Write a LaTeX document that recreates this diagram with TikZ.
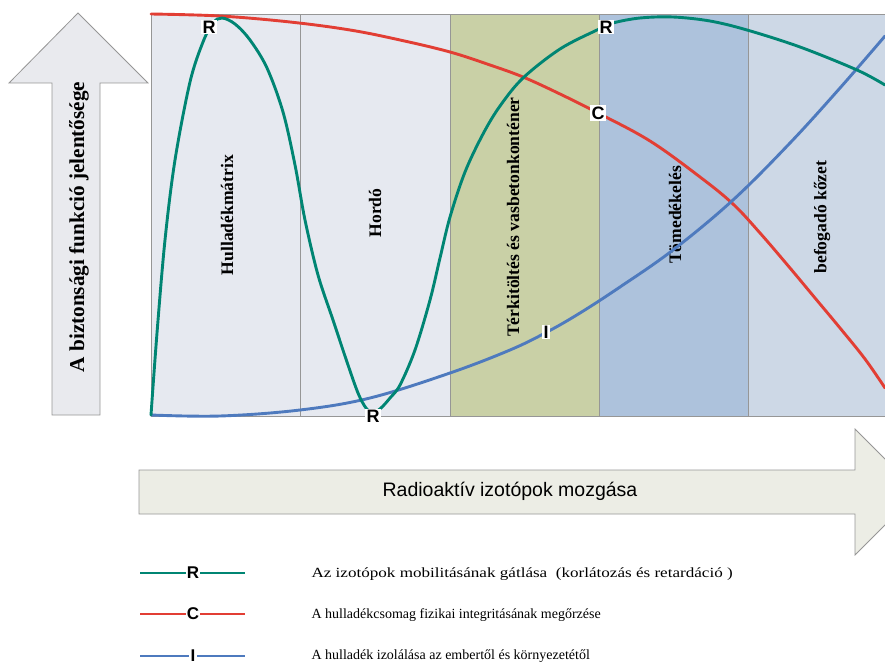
\documentclass[tikz,border=0pt]{standalone}
\usepackage{fontspec}
\setmainfont{Liberation Serif}
\setsansfont{Liberation Sans}
\newfontfamily\widelegend[FakeStretch=1.22]{Liberation Serif}
\definecolor{tealR}{RGB}{0,133,115}
\definecolor{redC}{RGB}{226,62,52}
\definecolor{blueI}{RGB}{78,122,190}
\definecolor{colA}{RGB}{230,233,240}
\definecolor{colB}{RGB}{201,208,166}
\definecolor{colC}{RGB}{173,194,220}
\definecolor{colD}{RGB}{205,216,230}
\definecolor{varrow}{RGB}{233,234,238}
\definecolor{harrow}{RGB}{236,237,229}
\definecolor{edgegrey}{RGB}{150,150,150}
\begin{document}
\begin{tikzpicture}[x=1pt,y=-1pt,
  colbox/.style={draw=edgegrey, line width=0.8pt},
  collabel/.style={rotate=90, font=\fontsize{17.6}{19}\selectfont\bfseries},
  curve/.style={line width=2.9pt, line join=round, line cap=round},
  curvelabel/.style={fill=white, inner sep=1.2pt, font=\sffamily\bfseries\fontsize{18}{18}\selectfont},
  legendtext/.style={anchor=west, font=\fontsize{14}{15}\selectfont},
  arrowedge/.style={draw=edgegrey, line width=0.8pt}]
\useasboundingbox (0,0) rectangle (885,666);
\clip (0,0) rectangle (885,666);

% vertical arrow: importance of the safety function
\filldraw[arrowedge, fill=varrow]
  (52,415) -- (52,83) -- (9,83) -- (78,13) -- (148,83) -- (100,83) -- (100,415) -- cycle;
\node[rotate=90, font=\fontsize{21.2}{23}\selectfont\bfseries] (vlabel) at (79,227)
  {A biztonsági funkció jelentősége};

% barrier columns
\filldraw[colbox, fill=colA] (151,14) rectangle (300,416);
\filldraw[colbox, fill=colA] (300,14) rectangle (450,416);
\filldraw[colbox, fill=colB] (450,14) rectangle (599,416);
\filldraw[colbox, fill=colC] (599,14) rectangle (748,416);
\filldraw[colbox, fill=colD] (748,14) rectangle (895,416);

\node[collabel] (c1) at (227,215) {Hulladékmátrix};
\node[collabel] (c2) at (375,213) {Hordó};
\node[collabel] (c3) at (513,217) {Térkitöltés és vasbetonkonténer};
\node[collabel] (c4) at (675,215) {Tömedékelés};
\node[collabel] (c5) at (822,217) {befogadó kőzet};

% C: physical integrity of the waste package
\draw[curve, redC] plot[smooth, tension=0.6] coordinates {
  (151,14) (220,16) (290,22) (350,30) (400,40) (450,52) (490,65)
  (523,77) (560,94) (598,113) (650,141) (700,177) (733,204) (760,233)
  (790,268) (815,298) (840,328) (865,359) (885,388)};

% I: isolation of the waste
\draw[curve, blueI] plot[smooth, tension=0.6] coordinates {
  (151,415) (220,416) (300,410) (370,398) (450,373) (510,350) (547,332)
  (580,313) (620,287) (673,250) (733,200) (790,143) (840,88) (885,36)};

% R: restriction and retardation of radionuclide mobility
\draw[curve, tealR] plot[smooth, tension=0.55] coordinates {
  (151,415) (157,333) (165,240) (175,160) (190,82) (203,42) (213,23)
  (222,18) (235,24) (250,40) (267,68) (283,112) (295,165) (305,220)
  (318,275) (333,320) (347,362) (358,393) (366,408) (373,413) (381,408)
  (390,398) (400,385) (415,350) (430,300) (440,258) (450,217) (465,172)
  (483,134) (500,106) (523,78) (560,49) (597,30) (613,23) (640,18)
  (673,17) (710,21) (747,30) (800,47) (857,70) (885,85)};

% curve markers
\node[curvelabel] (r1) at (209,27) {R};
\node[curvelabel] (r2) at (373,416) {R};
\node[curvelabel] (r3) at (606,27) {R};
\node[curvelabel] (cc) at (598,113) {C};
\node[curvelabel] (ii) at (546,332) {I};

% horizontal arrow: movement of radionuclides
\filldraw[arrowedge, fill=harrow]
  (139,470) -- (855,470) -- (855,429) -- (918,492) -- (855,555) -- (855,514) -- (139,514) -- cycle;
\node[font=\sffamily\fontsize{19.5}{21}\selectfont] (hlabel) at (510,491)
  {Radioaktív izotópok mozgása};

% legend
\coordinate (lr0) at (140,573); \coordinate (lr1) at (245,573);
\coordinate (lc0) at (140,614); \coordinate (lc1) at (245,614);
\coordinate (li0) at (140,656); \coordinate (li1) at (245,656);
\draw[tealR, line width=2.9pt] (lr0) -- (lr1);
\draw[redC, line width=2.9pt] (lc0) -- (lc1);
\draw[blueI, line width=2.9pt] (li0) -- (li1);
\node[curvelabel, font=\sffamily\bfseries\fontsize{17}{17}\selectfont] (lr) at (193,573) {R};
\node[curvelabel, font=\sffamily\bfseries\fontsize{17}{17}\selectfont] (lc) at (193,614) {C};
\node[curvelabel, font=\sffamily\bfseries\fontsize{17}{17}\selectfont] (li) at (193,656) {I};
\node[legendtext, font=\widelegend\fontsize{14}{15}\selectfont] (tr) at (308,574)
  {Az izotópok mobilitásának gátlása\ \ (korlátozás és retardáció )};
\node[legendtext] (tc) at (308,615) {A hulladékcsomag fizikai integritásának megőrzése};
\node[legendtext] (ti) at (308,656) {A hulladék izolálása az embertől és környezetétől};
\end{tikzpicture}
\end{document}
